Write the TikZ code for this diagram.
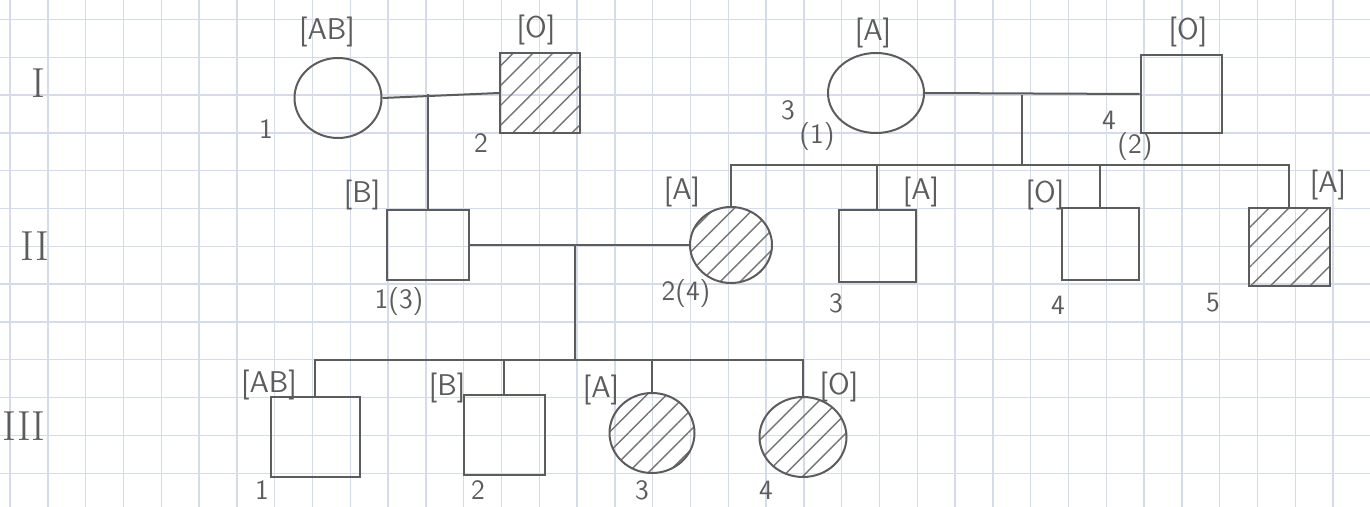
\documentclass[tikz,border=0pt]{standalone}
\usetikzlibrary{shapes.geometric,patterns.meta}
\definecolor{pencil}{HTML}{5C5C5C}
\definecolor{gridc}{HTML}{D5DBE8}
\tikzset{
  ind/.style={draw=pencil, line width=1pt, inner sep=0pt},
  msq/.style={ind, rectangle},
  fcirc/.style={ind, ellipse},
  affected/.style={pattern={Lines[angle=45,distance=7pt,line width=0.7pt]}, pattern color=pencil!85},
  link/.style={draw=pencil, line width=1pt},
  lab/.style={text=pencil, font=\sffamily\fontsize{15}{17}\selectfont, inner sep=0pt},
  num/.style={text=pencil, font=\sffamily\fontsize{14}{16}\selectfont, inner sep=0pt},
  gen/.style={text=pencil, font=\fontsize{21}{23}\selectfont, inner sep=0pt},
  gridline/.style={draw=gridc, line width=0.7pt}
}
\begin{document}
\begin{tikzpicture}[x=0.5pt, y=-0.5pt]
\useasboundingbox (0,0) rectangle (1370,507);
\fill[white] (0,0) rectangle (1370,507);
% grid paper
\foreach \k in {0,...,35} \draw[gridline] ({10+37.8*\k},0) -- ({10+37.8*\k},507);
\foreach \k in {0,...,12} \draw[gridline] (0,{19.6+37.8*\k}) -- (1370,{19.6+37.8*\k});

% generation numerals
\node[gen] (g1) at (38,83) {I};
\node[gen] (g2) at (35,246) {II};
\node[gen] (g3) at (24,426) {III};

% generation I
\node[fcirc, minimum width=43.5pt, minimum height=40pt] (i1) at (338,98) {};
\node[msq, affected, minimum width=40pt, minimum height=40pt] (i2) at (540,93) {};
\node[fcirc, minimum width=48pt, minimum height=40pt] (i3) at (876,93) {};
\node[msq, minimum width=40.5pt, minimum height=39pt] (i4) at (1181,94) {};

% generation II
\node[msq, minimum width=41pt, minimum height=35pt] (ii1) at (428,245) {};
\node[fcirc, affected, minimum width=41pt, minimum height=38pt] (ii2) at (731,245) {};
\node[msq, minimum width=38.5pt, minimum height=36pt] (ii3) at (877,246) {};
\node[msq, minimum width=38.5pt, minimum height=36pt] (ii4) at (1100,244) {};
\node[msq, affected, minimum width=40.5pt, minimum height=39pt] (ii5) at (1289,247) {};

% generation III
\node[msq, minimum width=44.5pt, minimum height=40pt] (iii1) at (315,437) {};
\node[msq, minimum width=40.5pt, minimum height=40pt] (iii2) at (504,435) {};
\node[fcirc, affected, minimum width=42.5pt, minimum height=40pt] (iii3) at (652,433) {};
\node[fcirc, affected, minimum width=43.5pt, minimum height=40pt] (iii4) at (803,437) {};

% connectors
\coordinate (m1) at (428,94);
\draw[link] (i1.east) -- (i2.west);
\draw[link] (m1) -- (ii1.north);

\coordinate (m2) at (1022,95);
\coordinate (s2) at (1022,165);
\draw[link] (i3.east) -- (i4.west);
\draw[link] (m2) -- (s2);
\draw[link] (ii2.north) -- (ii2.north |- s2) -- (ii5.north |- s2) -- (ii5.north);
\draw[link] (ii3.north) -- (ii3.north |- s2);
\draw[link] (ii4.north) -- (ii4.north |- s2);

\coordinate (m3) at (575,245);
\coordinate (s3) at (575,360);
\draw[link] (ii1.east) -- (ii2.west);
\draw[link] (m3) -- (s3);
\draw[link] (iii1.north) -- (iii1.north |- s3) -- (iii4.north |- s3) -- (iii4.north);
\draw[link] (iii2.north) -- (iii2.north |- s3);
\draw[link] (iii3.north) -- (iii3.north |- s3);

% blood group labels
\node[lab] (b-i1) at (327,32) {[AB]};
\node[lab] (b-i2) at (536,30) {[O]};
\node[lab] (b-i3) at (873,33) {[A]};
\node[lab] (b-i4) at (1188,32) {[O]};
\node[lab] (b-ii1) at (362,195) {[B]};
\node[lab] (b-ii2) at (682,192) {[A]};
\node[lab] (b-ii3) at (921,192) {[A]};
\node[lab] (b-ii4) at (1045,195) {[O]};
\node[lab] (b-ii5) at (1328,185) {[A]};
\node[lab] (b-iii1) at (269,385) {[AB]};
\node[lab] (b-iii2) at (447,388) {[B]};
\node[lab] (b-iii3) at (601,390) {[A]};
\node[lab] (b-iii4) at (839,387) {[O]};

% individual numbers
\node[num] (n-i1) at (266,129) {1};
\node[num] (n-i2) at (481,143) {2};
\node[num] (n-i3) at (788,110) {3};
\node[num] (n-i3b) at (817,137) {(1)};
\node[num] (n-i4) at (1109,120) {4};
\node[num] (n-i4b) at (1135,147) {(2)};
\node[num] (n-ii1) at (399,302) {1(3)};
\node[num] (n-ii2) at (686,294) {2(4)};
\node[num] (n-ii3) at (836,303) {3};
\node[num] (n-ii4) at (1058,305) {4};
\node[num] (n-ii5) at (1213,303) {5};
\node[num] (n-iii1) at (262,490) {1};
\node[num] (n-iii2) at (478,490) {2};
\node[num] (n-iii3) at (642,490) {3};
\node[num] (n-iii4) at (766,490) {4};
\end{tikzpicture}
\end{document}
